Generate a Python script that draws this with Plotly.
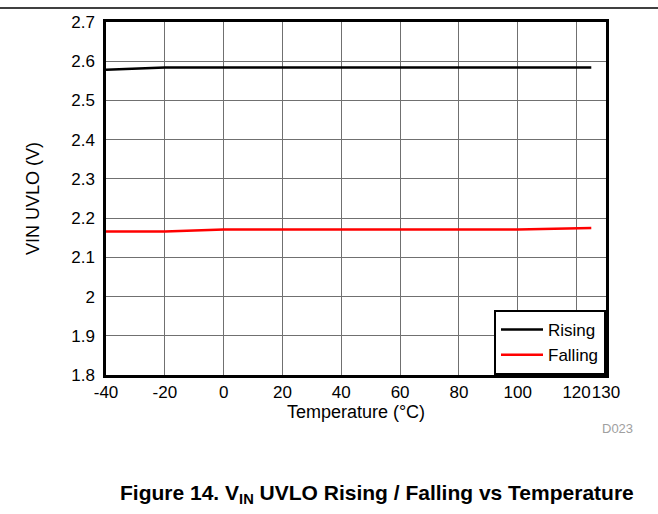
import plotly.graph_objects as go

temps = [-40, -20, 0, 20, 40, 60, 80, 100, 125]
rising = [2.578, 2.584, 2.584, 2.584, 2.584, 2.584, 2.584, 2.584, 2.584]
falling = [2.166, 2.166, 2.171, 2.171, 2.171, 2.171, 2.171, 2.171, 2.175]
x_ticks = [-40, -20, 0, 20, 40, 60, 80, 100, 120, 130]
y_ticks = [1.8, 1.9, 2.0, 2.1, 2.2, 2.3, 2.4, 2.5, 2.6, 2.7]
y_labels = ["1.8", "1.9", "2", "2.1", "2.2", "2.3", "2.4", "2.5", "2.6", "2.7"]

FONT = "Liberation Sans, Arial, sans-serif"

fig = go.Figure()
fig.add_trace(go.Scatter(x=temps, y=rising, mode="lines", name="Rising",
                         line=dict(color="black", width=2.5)))
fig.add_trace(go.Scatter(x=temps, y=falling, mode="lines", name="Falling",
                         line=dict(color="#ff0000", width=2.5)))

fig.update_layout(
    width=658, height=514,
    margin=dict(l=106, r=52, t=22, b=139),
    paper_bgcolor="white", plot_bgcolor="white",
    font=dict(family=FONT, size=17, color="black"),
    showlegend=True,
    legend=dict(x=1, y=0, xanchor="right", yanchor="bottom",
                bordercolor="black", borderwidth=2, bgcolor="white",
                font=dict(size=17), itemwidth=42, tracegroupgap=0),
    xaxis=dict(range=[-40, 130], tickvals=x_ticks, ticktext=[str(v) for v in x_ticks],
               showgrid=True, gridcolor="#707070", gridwidth=1,
               showline=True, linecolor="black", linewidth=2.5, mirror=True,
               ticks="", zeroline=False, tickfont=dict(size=17), tickangle=0,
               title=dict(text="Temperature (°C)", standoff=2, font=dict(size=18))),
    yaxis=dict(range=[1.8, 2.7], tickvals=y_ticks, ticktext=y_labels,
               showgrid=True, gridcolor="#707070", gridwidth=1,
               showline=True, linecolor="black", linewidth=2.5, mirror=True,
               ticks="", zeroline=False, tickfont=dict(size=17), ticklabelstandoff=5,
               title=dict(text="VIN UVLO (V)", standoff=27, font=dict(size=18))),
)

fig.add_shape(type="line", xref="paper", yref="paper", x0=-106/500, x1=(658-106)/500,
              y0=1 + 14/353, y1=1 + 14/353, line=dict(color="black", width=1.5))
fig.add_annotation(text="D023", xref="paper", yref="paper", x=(617-106)/500, y=-(428-375)/353,
                   showarrow=False, xanchor="center", yanchor="middle",
                   font=dict(size=13, color="#a0a0a0"))
fig.add_annotation(text="<b>Figure 14. V<sub>IN</sub> UVLO Rising / Falling vs Temperature</b>",
                   xref="paper", yref="paper", x=(377-106)/500, y=-(494-375)/353,
                   showarrow=False, xanchor="center", yanchor="middle",
                   font=dict(size=21, color="black"))

fig.write_html("out.html")
